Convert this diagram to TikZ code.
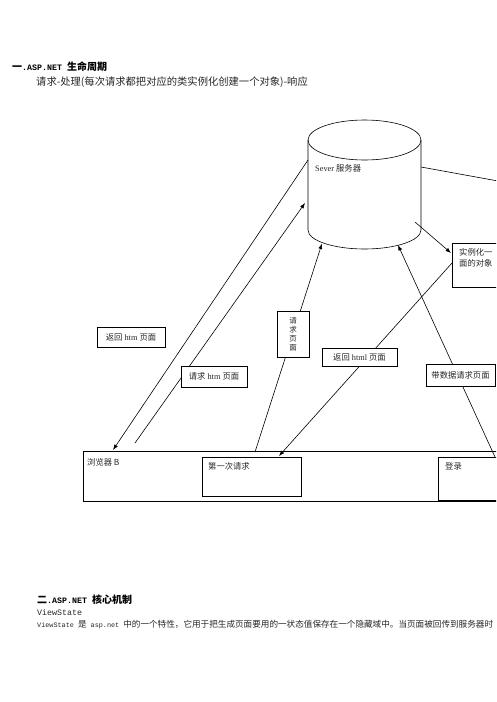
\documentclass[tikz,border=0pt]{standalone}
\usepackage{fontspec}
\setmainfont{Liberation Serif}
\newfontfamily\cjk{Noto Sans CJK SC}
\newfontfamily\mono{Liberation Mono}
\newcommand{\lat}[2][8.3]{{\mono\fontsize{#1}{12}\selectfont #2}}
\usetikzlibrary{positioning,arrows.meta}

\begin{document}
\begin{tikzpicture}[
  x=1pt, y=-1pt,
  >={Latex[length=5.5pt,width=4pt]},
  every node/.style={inner sep=0pt},
  small/.style={font=\fontsize{8.3}{11}\selectfont, text=black!85},
  head/.style={anchor=west, font=\cjk\fontsize{10}{12}\selectfont\bfseries},
  tag/.style={draw, fill=white, small, line width=0.6pt},
  frame/.style={draw, anchor=north west, line width=0.6pt},
  arrow/.style={->, line width=0.6pt},
  wire/.style={line width=0.6pt}
]
\useasboundingbox (0,0) rectangle (496,702);
\clip (0,0) rectangle (496,702);

% headings
\node[head] (sec_one) at (12,67) {一\lat{.ASP.NET }生命周期};
\node[anchor=west, font=\cjk\fontsize{10.3}{12}\selectfont, text=black!85] (sub_one) at (36,82)
  {请求-处理(每次请求都把对应的类实例化创建一个对象)-响应};

% server (cylinder)
\draw[wire] (308,140) -- (308,230) arc[start angle=180, end angle=0, x radius=56.5, y radius=19] -- (421,140);
\draw[wire] (364.5,140) ellipse [x radius=56.5, y radius=20];
\node[small, anchor=west] (srv_label) at (315,168) {Sever {\cjk 服务器}};

% browser and its boxes
\node[frame, minimum width=440pt, minimum height=50pt] (browser) at (83,451) {};
\node[small, below right=7.5pt and 4pt of browser.north west] (browser_label) {\cjk 浏览器 B};
\node[frame, minimum width=99pt, minimum height=39pt] (first) at (202,457) {};
\node[small, below right=5.5pt and 6pt of first.north west] (first_label) {\cjk 第一次请求};
\node[frame, minimum width=80pt, minimum height=43pt] (login) at (438,457) {};
\node[small, below right=5.5pt and 7pt of login.north west] (login_label) {\cjk 登录};

% page object
\node[frame, minimum width=70pt, minimum height=44pt] (inst) at (452,243) {};
\node[small, align=left, font=\cjk\fontsize{8.3}{11}\selectfont, below right=5pt and 7pt of inst.north west] (inst_label)
  {实例化一\\面的对象};

% connector ends
\coordinate (srv_a) at (308,160);
\coordinate (srv_b) at (305,203);
\coordinate (srv_c) at (322,243.5);
\coordinate (srv_d) at (398,245);
\coordinate (srv_e) at (415,222);
\coordinate (srv_f) at (421,167);
\coordinate (brw_a) at (113,450);
\coordinate (brw_b) at (135,443);
\coordinate (brw_c) at (255,452);
\coordinate (first_in) at (279,456);
\coordinate (inst_in) at (451,253);
\coordinate (inst_out) at (452,263);
\coordinate (login_out) at (495,457);
\coordinate (off_right) at (520,185);

% requests and responses
\draw[arrow] (srv_a) -- (brw_a);
\draw[arrow] (brw_b) -- (srv_b);
\draw[arrow] (brw_c) -- (srv_c);
\draw[arrow] (srv_e) -- (inst_in);
\draw[arrow] (inst_out) -- (first_in);
\draw[arrow] (login_out) -- (srv_d);
\draw[wire] (srv_f) -- (off_right);

% labels on the lines
\node[tag, minimum width=68pt, minimum height=20pt] (back_htm) at (131,337) {{\cjk 返回} htm {\cjk 页面}};
\node[tag, minimum width=66pt, minimum height=21pt] (req_htm) at (214,376.5) {{\cjk 请求} htm {\cjk 页面}};
\node[tag, minimum width=32pt, minimum height=46pt, align=center, font=\cjk\fontsize{7.5}{9}\selectfont] (req_page) at (293,334)
  {请\\求\\页\\面};
\node[tag, minimum width=75pt, minimum height=18pt] (back_html) at (359.5,357) {{\cjk 返回} html {\cjk 页面}};
\node[tag, minimum width=69pt, minimum height=22pt] (data_req) at (460.5,375) {\cjk 带数据请求页面};

% second section
\node[head] (sec_two) at (37,600) {二\lat{.ASP.NET }核心机制};
\node[anchor=west, text=black!85] (vs_name) at (37,613) {\lat{ViewState}};
\node[anchor=west, font=\cjk\fontsize{8.6}{12}\selectfont, text=black!85] (vs_text) at (37,625)
  {\lat[6.8]{ViewState }是\lat[6.8]{ asp.net }中的一个特性，它用于把生成页面要用的一状态值保存在一个隐藏域中。当页面被回传到服务器时};

\end{tikzpicture}
\end{document}
